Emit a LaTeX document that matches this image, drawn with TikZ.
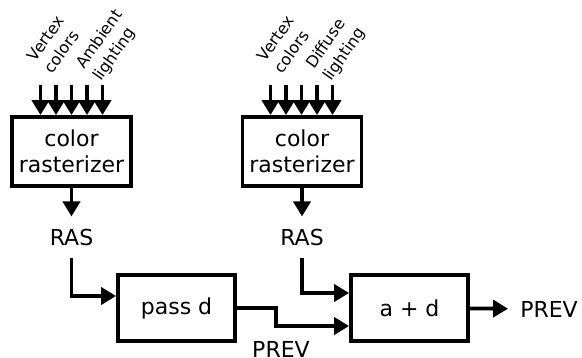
\documentclass[tikz,border=0pt]{standalone}
\usepackage{fontspec}
\setmainfont{DejaVu Sans}
\usetikzlibrary{arrows.meta}
\tikzstyle{block}=[draw,line width=3.8pt,minimum width=117pt,minimum height=66pt,inner sep=0pt,align=center,font=\fontsize{22}{26}\selectfont]
\tikzstyle{bigblock}=[block,minimum width=119pt,minimum height=69pt]
\tikzstyle{signal}=[inner sep=12pt,font=\fontsize{22}{26}\selectfont]
\tikzstyle{edge} = [draw,line width=3.8pt,-{Triangle[length=15pt,width=17pt]}]
\tikzstyle{inlabel} = [rotate=55,anchor=south west,align=left,inner sep=0pt,font=\fontsize{16}{21}\selectfont]

\begin{document}
\begin{tikzpicture}[x=1pt,y=-1pt]

    \useasboundingbox (0,0) rectangle (582,357);

     \foreach \x/\y/\name in {71.5/151.5/rastA, 302/151.5/rastB}
        \node[bigblock] (\name) at (\x,\y) {color\\rasterizer};

     \foreach \x/\y/\name/\txt in {176.5/308/pass/{pass d}, 409.5/308/sum/{a + d}}
        \node[block] (\name) at (\x,\y) {\txt};

     \foreach \x/\y/\name in {71.5/237/rasA, 302/237/rasB}
        \node[signal] (\name) at (\x,\y) {RAS};

    \node[signal] (prevA) at (281,349) {PREV};
    \node[signal] (prevB) at (549,309) {PREV};

    % inputs of the two rasterizers
    \foreach \i in {1,...,5} {
        \coordinate (inA\i) at (25+15.5*\i,85);
        \coordinate (inB\i) at (255+15.5*\i,85);
        \draw[edge] (inA\i) -- (inA\i |- rastA.north);
        \draw[edge] (inB\i) -- (inB\i |- rastB.north);
    }

    \node[inlabel] (colA) at (53,75) {Vertex\\colors};
    \node[inlabel] (amb) at (104,84) {Ambient\\lighting};
    \node[inlabel] (colB) at (283,75) {Vertex\\colors};
    \node[inlabel] (dif) at (334,84) {Diffuse\\lighting};

    \foreach \source/ \dest in {rastA/rasA, rastB/rasB, sum/prevB}
        \path[edge] (\source) -- (\dest);

    \path[edge] (rasA.south) |- ([yshift=12pt]pass.west);
    \path[edge] (rasB.south) |- ([yshift=15pt]sum.west);
    \path[edge] (pass.east) -- ++(39,0) |- ([yshift=-18pt]sum.west);

\end{tikzpicture}
\end{document}
